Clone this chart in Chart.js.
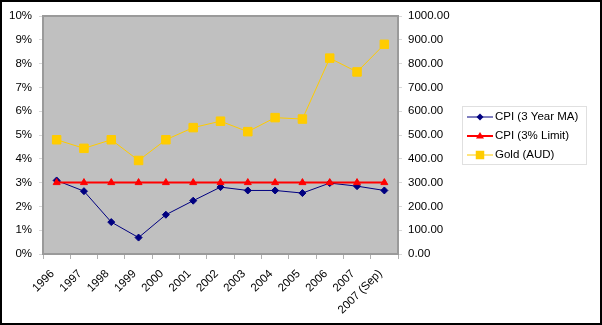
<!DOCTYPE html>
<html>
<head>
<meta charset="utf-8">
<title>CPI vs Gold (AUD)</title>
<script src="https://cdn.jsdelivr.net/npm/chart.js@4/dist/chart.umd.min.js"></script>
<style>
    body { margin: 0; background: #fff; }
    canvas { display: block; }
</style>
</head>
<body>
<canvas id="myChart" width="602" height="325"></canvas>
<script>
const years = ['1996', '1997', '1998', '1999', '2000', '2001', '2002', '2003', '2004', '2005', '2006', '2007', '2007 (Sep)'];
const cpiMA = [3.09, 2.64, 1.34, 0.69, 1.65, 2.24, 2.81, 2.67, 2.67, 2.56, 2.98, 2.85, 2.67];
const cpiLimit = [3, 3, 3, 3, 3, 3, 3, 3, 3, 3, 3, 3, 3];
const goldAud = [480, 444, 480, 393, 480, 531, 558, 514, 573, 567, 823, 765, 881];
const seriesNames = ['CPI (3 Year MA)', 'CPI (3% Limit)', 'Gold (AUD)'];

const fontFamily = '"Liberation Sans", Arial, sans-serif';
Chart.defaults.font.family = fontFamily;
Chart.defaults.font.size = 11.5;
Chart.defaults.color = '#000';

// small marker shapes for the legend
const drawMarker = (ctx, style, x, y, r, color) => {
    ctx.fillStyle = color;
    ctx.beginPath();
    if (style === 'rectRot') {
        ctx.moveTo(x, y - r); ctx.lineTo(x + r, y); ctx.lineTo(x, y + r); ctx.lineTo(x - r, y);
    } else if (style === 'triangle') {
        ctx.moveTo(x, y - r); ctx.lineTo(x + r, y + r * 0.6); ctx.lineTo(x - r, y + r * 0.6);
    } else {
        const s = r * Math.SQRT1_2;
        ctx.rect(x - s, y - s, s * 2, s * 2);
    }
    ctx.closePath();
    ctx.fill();
};

const plotFrame = {
    id: 'plotFrame',
    beforeDraw(chart) {
        const { ctx, chartArea: a, width, height } = chart;
        ctx.save();
        ctx.fillStyle = '#fff';
        ctx.fillRect(0, 0, width, height);
        ctx.fillStyle = '#c0c0c0';
        ctx.fillRect(a.left, a.top, a.right - a.left, a.bottom - a.top);
        ctx.restore();
    },
    beforeDatasetsDraw(chart) {
        const { ctx, chartArea: a } = chart;
        ctx.save();
        ctx.strokeStyle = '#9a9a9a';
        ctx.lineWidth = 2;
        ctx.strokeRect(a.left, a.top, a.right - a.left, a.bottom - a.top);
        ctx.restore();
    },
    afterDraw(chart) {
        const { ctx, width, height } = chart;
        ctx.save();
        // outer chart border
        ctx.strokeStyle = '#000';
        ctx.lineWidth = 2;
        ctx.strokeRect(1, 1, width - 2, height - 2);

        // legend box
        const lx = 462, ly = 106, lw = 124, lh = 58;
        ctx.fillStyle = '#fff';
        ctx.fillRect(lx, ly, lw, lh);
        ctx.strokeStyle = '#e0e0e0';
        ctx.lineWidth = 1;
        ctx.strokeRect(lx + 0.5, ly + 0.5, lw, lh);

        ctx.font = '11.5px ' + fontFamily;
        ctx.textBaseline = 'middle';
        chart.data.datasets.forEach((ds, i) => {
            const y = ly + 11 + i * 19;
            ctx.strokeStyle = ds.borderColor;
            ctx.lineWidth = ds.borderWidth;
            ctx.beginPath();
            ctx.moveTo(lx + 5, y);
            ctx.lineTo(lx + 31, y);
            ctx.stroke();
            drawMarker(ctx, ds.pointStyle, lx + 18, y, ds.pointRadius, ds.pointBackgroundColor);
            ctx.fillStyle = '#000';
            ctx.fillText(ds.label, lx + 33, y);
        });
        ctx.restore();
    }
};

new Chart("myChart", {
    type: "line",
    data: {
        labels: years,
        datasets: [{
            label: seriesNames[0],
            data: cpiMA,
            yAxisID: 'y',
            borderColor: '#000080',
            borderWidth: 1,
            pointStyle: 'rectRot',
            pointRadius: 3.5,
            pointBackgroundColor: '#000080',
            pointBorderColor: '#000080',
            pointBorderWidth: 1,
            order: 2
        }, {
            label: seriesNames[1],
            data: cpiLimit,
            yAxisID: 'y',
            borderColor: '#ff0000',
            borderWidth: 2,
            pointStyle: 'triangle',
            pointRadius: 4,
            pointBackgroundColor: '#ff0000',
            pointBorderColor: '#ff0000',
            pointBorderWidth: 1,
            order: 1
        }, {
            label: seriesNames[2],
            data: goldAud,
            yAxisID: 'y1',
            borderColor: '#ffcc00',
            borderWidth: 1,
            pointStyle: 'rect',
            pointRadius: 6,
            pointBackgroundColor: '#ffcc00',
            pointBorderColor: '#ffcc00',
            pointBorderWidth: 1,
            order: 0
        }]
    },
    options: {
        responsive: false,
        animation: false,
        devicePixelRatio: 1,
        layout: { padding: { top: 16, left: 0, right: 0, bottom: 0 } },
        plugins: {
            legend: { display: false },
            tooltip: { enabled: false }
        },
        scales: {
            x: {
                offset: true,
                border: { display: false },
                grid: { offset: true, drawOnChartArea: false, tickLength: 5, color: '#b0b0b0' },
                ticks: { minRotation: 45, maxRotation: 45, autoSkip: false, padding: 8, labelOffset: -4 },
                afterFit: (s) => { s.height = 71; }
            },
            y: {
                position: 'left',
                min: 0,
                max: 10,
                border: { display: false },
                grid: { drawOnChartArea: false, tickLength: 4, color: '#d8d8d8' },
                ticks: { stepSize: 1, padding: 7, callback: (v) => v + '%' },
                afterFit: (s) => { s.width = 43; }
            },
            y1: {
                position: 'right',
                min: 0,
                max: 1000,
                border: { display: false },
                grid: { drawOnChartArea: false, tickLength: 4, color: '#d8d8d8' },
                ticks: { stepSize: 100, padding: 6, callback: (v) => v.toFixed(2) },
                afterFit: (s) => { s.width = 204; }
            }
        }
    },
    plugins: [plotFrame]
});
</script>
</body>
</html>
